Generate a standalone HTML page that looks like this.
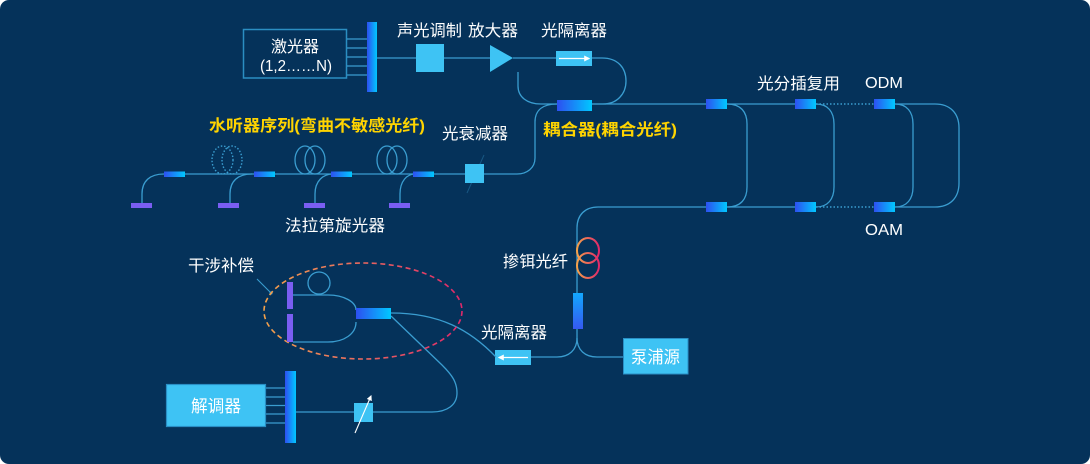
<!DOCTYPE html>
<html><head><meta charset="utf-8">
<style>
html,body{margin:0;padding:0;background:#ffffff;}
body{width:1090px;height:464px;overflow:hidden;}
svg{display:block;}
text{font-family:"Liberation Sans","Noto Sans CJK SC",sans-serif;}
.w{fill:#ffffff;font-size:16px;}
.y{fill:#ffd400;font-size:16px;font-weight:bold;}
.ln{fill:none;stroke:#3a9dd0;stroke-width:1.3;}
.dt{fill:none;stroke:#3a9dd0;stroke-width:1.6;stroke-dasharray:1.5 2;}
.cy{fill:#3ec3f4;}
</style></head>
<body>
<svg width="1090" height="464" viewBox="0 0 1090 464" xmlns="http://www.w3.org/2000/svg">
<defs>
<linearGradient id="gh" x1="0" y1="0" x2="1" y2="0">
<stop offset="0" stop-color="#2d4ff0"/><stop offset="1" stop-color="#00c8ff"/>
</linearGradient>
<linearGradient id="gv" x1="0" y1="0" x2="0" y2="1">
<stop offset="0" stop-color="#12a8ff"/><stop offset="1" stop-color="#3558f0"/>
</linearGradient>
<linearGradient id="go" x1="0" y1="0" x2="1" y2="0">
<stop offset="0" stop-color="#f5a24a"/><stop offset="1" stop-color="#e0286a"/>
</linearGradient>
<linearGradient id="ge" gradientUnits="userSpaceOnUse" x1="264" y1="0" x2="462" y2="0">
<stop offset="0" stop-color="#f5a24a"/><stop offset="0.35" stop-color="#eb7a5c"/><stop offset="1" stop-color="#e0286a"/>
</linearGradient>
<marker id="ah" viewBox="0 0 10 10" refX="8" refY="5" markerWidth="5" markerHeight="5" orient="auto">
<path d="M0,0 L10,5 L0,10 z" fill="#ffffff"/>
</marker>
</defs>
<rect x="0" y="0" width="1090" height="464" rx="9" fill="#05325a"/>

<!-- ===== Top laser section ===== -->
<rect x="243.5" y="29.5" width="103" height="48.5" fill="none" stroke="#2b8ec2" stroke-width="1.5"/>
<text class="w" x="295" y="52" text-anchor="middle">激光器</text>
<text class="w" x="296" y="71" text-anchor="middle" textLength="72" lengthAdjust="spacingAndGlyphs">(1,2……N)</text>
<g class="ln">
<line x1="347" y1="39" x2="367" y2="39"/>
<line x1="347" y1="48" x2="367" y2="48"/>
<line x1="347" y1="57" x2="367" y2="57"/>
<line x1="347" y1="66" x2="367" y2="66"/>
<line x1="347" y1="75" x2="367" y2="75"/>
<line x1="377" y1="58" x2="416" y2="58"/>
<line x1="444" y1="58" x2="490" y2="58"/>
<line x1="513" y1="58" x2="556" y2="58"/>
<path d="M592,58 L602,58 C618,58 626,68 626,81 C626,94 617,104 603,104 L592,104"/>
<path d="M518,72 L518,86 C518,97 527,104 541,104 L557,104"/>
<path d="M557,104 C543,104 535,110 535,122 L535,158 C535,168 527,174 517,174 L484,174"/>
<line x1="592" y1="104" x2="706" y2="104"/>
</g>
<rect x="367" y="22" width="10" height="70" fill="url(#gh)"/>
<rect x="416" y="44" width="28" height="28" class="cy"/>
<polygon points="490,45 513,58 490,72" class="cy"/>
<rect x="556" y="51" width="36" height="15" class="cy"/>
<line x1="559" y1="58.5" x2="589" y2="58.5" stroke="#ffffff" stroke-width="1.2" marker-end="url(#ah)"/>
<rect x="557" y="100" width="35" height="11" fill="url(#gh)"/>
<text class="w" x="397" y="36" textLength="65" lengthAdjust="spacingAndGlyphs">声光调制</text>
<text class="w" x="468" y="36" textLength="50" lengthAdjust="spacingAndGlyphs">放大器</text>
<text class="w" x="541" y="36" textLength="66" lengthAdjust="spacingAndGlyphs">光隔离器</text>
<text class="y" x="543" y="135" textLength="134" lengthAdjust="spacingAndGlyphs">耦合器(耦合光纤)</text>

<!-- ===== Hydrophone array ===== -->
<g class="ln">
<line x1="164" y1="174" x2="465" y2="174"/>
<path d="M142,203 L142,194 C142,181 150,174 164,174"/>
<path d="M230,203 L230,194 C230,181 238,174 252,174"/>
<path d="M315,203 L315,194 C315,181 323,174 333,174"/>
<path d="M400,203 L400,194 C400,181 407,174 415,174"/>
<ellipse cx="305" cy="160" rx="10" ry="14"/>
<ellipse cx="315" cy="160" rx="10" ry="14"/>
<ellipse cx="387" cy="160" rx="10" ry="14"/>
<ellipse cx="397" cy="160" rx="10" ry="14"/>
</g>
<g fill="none" stroke="#3a9dd0" stroke-width="1.4" stroke-dasharray="1.5 1.8">
<ellipse cx="222.5" cy="160" rx="10.5" ry="14"/>
<ellipse cx="232" cy="160" rx="10" ry="14"/>
</g>
<g fill="url(#gh)">
<rect x="164" y="171.5" width="21" height="5.5"/>
<rect x="254" y="171.5" width="21" height="5.5"/>
<rect x="331" y="171.5" width="21" height="5.5"/>
<rect x="413" y="171.5" width="21" height="5.5"/>
</g>
<g fill="#7a5ef2">
<rect x="131" y="203" width="21" height="5"/>
<rect x="218" y="203" width="21" height="5"/>
<rect x="304" y="203" width="21" height="5"/>
<rect x="389" y="203" width="21" height="5"/>
</g>
<line x1="467" y1="193" x2="484" y2="155" stroke="#3a9dd0" stroke-width="1" opacity="0.35"/>
<rect x="465" y="164" width="19" height="19" class="cy"/>
<text class="y" x="209" y="131" textLength="216" lengthAdjust="spacingAndGlyphs">水听器序列(弯曲不敏感光纤)</text>
<text class="w" x="442" y="139" textLength="66" lengthAdjust="spacingAndGlyphs">光衰减器</text>
<text class="w" x="285" y="231" textLength="100" lengthAdjust="spacingAndGlyphs">法拉第旋光器</text>

<!-- ===== Right network ===== -->
<g class="ln">
<line x1="727" y1="104" x2="795" y2="104"/>
<line x1="727" y1="207" x2="795" y2="207"/>
<path d="M727,104 C741,104 747,112 747,124 L747,187 C747,199 741,207 727,207"/>
<path d="M816,104 C828,104 834,112 834,124 L834,187 C834,199 828,207 816,207"/>
<path d="M895,104 C907,104 913,112 913,124 L913,187 C913,199 907,207 895,207"/>
<path d="M895,104 L935,104 C950,104 959,113 959,128 L959,183 C959,198 950,207 935,207 L895,207"/>
<path d="M706,207 L598,207 C585,207 577,215 577,228 L577,293"/>
</g>
<line x1="816" y1="104" x2="874" y2="104" class="dt"/>
<line x1="816" y1="207" x2="874" y2="207" class="dt"/>
<g fill="url(#gh)">
<rect x="706" y="99" width="21" height="10"/>
<rect x="795" y="99" width="21" height="10"/>
<rect x="874" y="99" width="21" height="10"/>
<rect x="706" y="202" width="21" height="10"/>
<rect x="795" y="202" width="21" height="10"/>
<rect x="874" y="202" width="21" height="10"/>
</g>
<text class="w" x="757" y="89" textLength="83" lengthAdjust="spacingAndGlyphs">光分插复用</text>
<text class="w" x="865" y="88" textLength="38" lengthAdjust="spacingAndGlyphs">ODM</text>
<text class="w" x="865" y="235" textLength="38" lengthAdjust="spacingAndGlyphs">OAM</text>

<!-- ===== Erbium / pump ===== -->
<g fill="none" stroke="url(#go)" stroke-width="2">
<ellipse cx="588" cy="250.5" rx="11" ry="12.5"/>
<ellipse cx="588" cy="265.5" rx="11" ry="12.5"/>
</g>
<g class="ln">
<path d="M577,329 L577,338 C577,350 569,357 557,357 L531,357"/>
<path d="M577,338 C577,350 585,357 597,357 L623,357"/>
</g>
<rect x="573" y="293" width="10" height="36" fill="url(#gv)"/>
<rect x="623.5" y="338.5" width="64.5" height="35.5" class="cy" stroke="#2a8fc5" stroke-width="1"/>
<text class="w" x="631" y="363" style="font-size:17px" textLength="49" lengthAdjust="spacingAndGlyphs">泵浦源</text>
<rect x="495" y="350" width="36" height="15" class="cy"/>
<line x1="528" y1="357.5" x2="499" y2="357.5" stroke="#ffffff" stroke-width="1.2" marker-end="url(#ah)"/>
<text class="w" x="503" y="267" textLength="65" lengthAdjust="spacingAndGlyphs">掺铒光纤</text>
<text class="w" x="481" y="338" textLength="66" lengthAdjust="spacingAndGlyphs">光隔离器</text>

<!-- ===== Interference compensation ===== -->
<g class="ln">
<circle cx="319" cy="283" r="11"/>
<path d="M293,295 L328,295 C344,295 356,302 356,310"/>
<path d="M293,342 L328,342 C344,342 356,334 356,322"/>
<path d="M391,313 C440,313 470,330 496,357"/>
<path d="M391,316 L442,365 C452,375 457,382 457,393 C457,405 447,412 432,412 L296,412"/>
<line x1="266" y1="388" x2="285" y2="388"/>
<line x1="266" y1="397" x2="285" y2="397"/>
<line x1="266" y1="405.5" x2="285" y2="405.5"/>
<line x1="266" y1="414" x2="285" y2="414"/>
<line x1="266" y1="423" x2="285" y2="423"/>
</g>
<line x1="257" y1="279" x2="271" y2="293" stroke="#3a9dd0" stroke-width="1.1"/>
<circle cx="271" cy="293" r="1.6" fill="#3a9dd0"/>
<ellipse cx="363" cy="311" rx="99" ry="48" fill="none" stroke="url(#ge)" stroke-width="1.6" stroke-dasharray="5 3.5"/>
<rect x="287" y="282" width="6" height="27" fill="#7a5ef2"/>
<rect x="287" y="314" width="6" height="28" fill="#7a5ef2"/>
<rect x="356" y="308" width="35" height="11" fill="url(#gh)"/>
<text class="w" x="188" y="271" textLength="66" lengthAdjust="spacingAndGlyphs">干涉补偿</text>

<!-- ===== Demodulator ===== -->
<rect x="166.5" y="384.5" width="99" height="42" class="cy" stroke="#2a8fc5" stroke-width="1.2"/>
<text class="w" x="191" y="412" style="font-size:17px" textLength="50" lengthAdjust="spacingAndGlyphs">解调器</text>
<rect x="285" y="371" width="11" height="72" fill="url(#gh)"/>
<rect x="354" y="403" width="19" height="19" class="cy"/>
<line x1="355" y1="433" x2="371" y2="396" stroke="#ffffff" stroke-width="1.1" marker-end="url(#ah)"/>
</svg>
</body></html>
